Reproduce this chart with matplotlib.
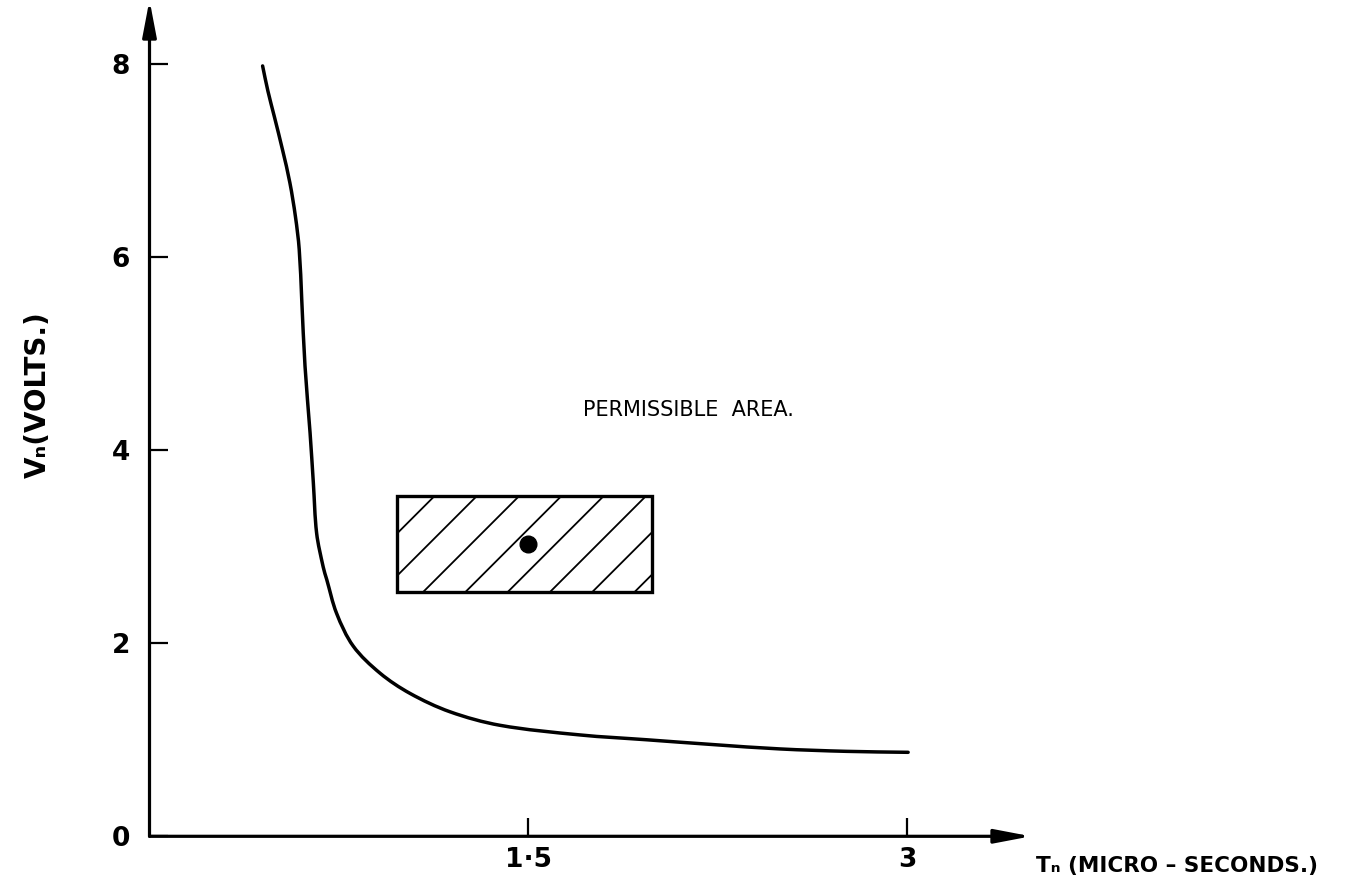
import numpy as np
import matplotlib
matplotlib.use("Agg")
import matplotlib.pyplot as plt
from matplotlib.patches import Rectangle, PathPatch
from matplotlib.path import Path

# Boundary curve: pulse width T_n (micro-seconds) against amplitude V_n (volts)
t_curve = [0.448, 0.469, 0.494, 0.527, 0.556, 0.578, 0.593, 0.603, 0.616,
           0.636, 0.649, 0.662, 0.688, 0.702, 0.741, 0.807, 0.913, 1.032,
           1.190, 1.388, 1.705, 1.969, 2.233, 2.497, 2.761, 3.005]
v_curve = [7.98, 7.72, 7.46, 7.11, 6.77, 6.42, 6.08, 5.56, 4.87,
           4.18, 3.66, 3.14, 2.79, 2.66, 2.31, 1.97, 1.69, 1.48,
           1.29, 1.15, 1.05, 1.00, 0.95, 0.905, 0.88, 0.87]

# Permissible operating window and the nominal operating point
area_t = [0.98, 1.99]
area_v = [2.53, 3.53]
point_t = 1.5
point_v = 3.03

x_ticks = [1.5, 3]
x_tick_labels = ["1·5", "3"]
y_ticks = [0, 2, 4, 6, 8]
y_tick_labels = ["0", "2", "4", "6", "8"]

X_MAX = 3.46
Y_MAX = 8.58

FONT = "DejaVu Sans"

fig = plt.figure(figsize=(13.47, 8.9), dpi=100)
ax = fig.add_axes([0.11099, 0.06034, 0.64848, 0.93067])
ax.set_xlim(0, X_MAX)
ax.set_ylim(0, Y_MAX)
for s in ax.spines.values():
    s.set_visible(False)
ax.patch.set_visible(False)

# Screen scale of the data units (used for arrow tips, hatching, smoothing)
bbox = ax.get_position()
fw, fh = fig.get_size_inches() * fig.dpi
px_per_t = bbox.width * fw / X_MAX
px_per_v = bbox.height * fh / Y_MAX

# Axes drawn as arrows
arrow_kw = dict(arrowstyle="-|>,head_length=2.2,head_width=0.42",
                mutation_scale=10, lw=2.3, color="black",
                shrinkA=0, shrinkB=0)
ax.annotate("", xy=(X_MAX + 8 / px_per_t, 0), xytext=(0, 0),
            arrowprops=arrow_kw, annotation_clip=False)
ax.annotate("", xy=(0, Y_MAX + 8 / px_per_v), xytext=(0, 0),
            arrowprops=arrow_kw, annotation_clip=False)

# Ticks
ax.set_xticks(x_ticks)
ax.set_xticklabels(x_tick_labels)
ax.set_yticks(y_ticks)
ax.set_yticklabels(y_tick_labels)
ax.tick_params(axis="both", direction="in", length=13, width=1.6,
               color="black")
ax.tick_params(axis="x", pad=8)
ax.tick_params(axis="y", pad=14)
for lab in ax.get_xticklabels() + ax.get_yticklabels():
    lab.set_fontfamily(FONT)
    lab.set_fontweight("bold")
    lab.set_fontsize(19)


def smooth_path(xs, ys):
    """Cubic Bezier path through the given points (chord-length Hermite)."""
    p = np.column_stack([np.asarray(xs) * px_per_t, np.asarray(ys) * px_per_v])
    d = np.hypot(*np.diff(p, axis=0).T)
    m = np.zeros_like(p)
    m[0] = (p[1] - p[0]) / d[0]
    m[-1] = (p[-1] - p[-2]) / d[-1]
    for i in range(1, len(p) - 1):
        m[i] = (p[i + 1] - p[i - 1]) / (d[i - 1] + d[i])
    verts = [p[0]]
    codes = [Path.MOVETO]
    for i in range(len(p) - 1):
        verts += [p[i] + m[i] * d[i] / 3, p[i + 1] - m[i + 1] * d[i] / 3, p[i + 1]]
        codes += [Path.CURVE4] * 3
    verts = np.array(verts) / [px_per_t, px_per_v]
    return Path(verts, codes)


# Boundary curve
ax.add_patch(PathPatch(smooth_path(t_curve, v_curve), facecolor="none",
                       edgecolor="black", lw=2.5, capstyle="round",
                       joinstyle="round"))

# Hatched permissible area
rect = Rectangle((area_t[0], area_v[0]), area_t[1] - area_t[0],
                 area_v[1] - area_v[0], facecolor="none",
                 edgecolor="black", lw=2.4, zorder=3)
ax.add_patch(rect)

# 45-degree hatch lines (in screen space), clipped to the rectangle
slope = px_per_t / px_per_v
spacing = 0.1675
first_top = 1.131
span = (area_v[1] - area_v[0]) / slope
tops = np.arange(first_top - 3 * spacing, area_t[1] + span + spacing, spacing)
for tt in tops:
    tb = tt - span
    ln, = ax.plot([tb, tt], [area_v[0], area_v[1]], color="black", lw=1.3,
                  zorder=2)
    ln.set_clip_path(rect)

# Operating point
ax.plot([point_t], [point_v], "o", color="black", markersize=12, zorder=4)

# Annotations
ax.text(1.717, 4.42, "PERMISSIBLE  AREA.", fontfamily=FONT,
        fontsize=15, ha="left", va="center", color="black")

fig.text(38 / 1347, 1 - 395 / 890, "Vₙ(VOLTS.)", rotation=90,
         fontfamily=FONT, fontweight="bold", fontsize=20, ha="center",
         va="center")
fig.text(1036 / 1347, 1 - 866 / 890, "Tₙ (MICRO – SECONDS.)",
         fontfamily=FONT, fontweight="bold", fontsize=15.5, ha="left",
         va="center")

fig.savefig("out.png", dpi=100, facecolor="white")
